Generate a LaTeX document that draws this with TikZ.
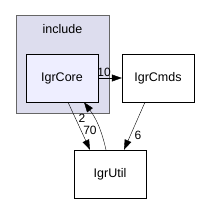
\documentclass[tikz,border=0pt]{standalone}
\usepackage{fontspec}
\setmainfont{Liberation Sans}
\usetikzlibrary{arrows.meta,positioning}
\definecolor{clusterfill}{HTML}{DDDDEE}
\definecolor{clusterline}{HTML}{666666}
\definecolor{corefill}{HTML}{EEEEFF}

\begin{document}
\begin{tikzpicture}[x=1pt, y=-1pt, font=\fontsize{12.5}{14}\selectfont,
    dirbox/.style={rectangle, draw=black, fill=white, minimum width=72pt, minimum height=48pt, inner sep=0pt},
    grp/.style={rectangle, draw=clusterline, fill=clusterfill, minimum width=93pt, minimum height=98pt, inner sep=0pt},
    dep/.style={-{Triangle[length=10pt,width=7pt]}, black},
    cnt/.style={font=\fontsize{12}{14}\selectfont, inner sep=0pt}]
\useasboundingbox (0,0) rectangle (200,204);
\node[grp] (inc) at (62.5,64) {};
\node (inclabel) at (62.5,29) {include};
\node[dirbox, fill=corefill] (core) at (62,78) {IgrCore};
\node[dirbox] (cmds) at (158,78) {IgrCmds};
\node[dirbox] (util) at (110,174) {IgrUtil};
\draw[dep] (core.east) -- (cmds.west) node[cnt, pos=0.25, above=1pt] {10};
\draw[dep] ([xshift=6pt]core.south) -- ([xshift=-20pt]util.north);
\node[cnt] (l2) at (82,118) {2};
\draw[dep] ([xshift=-4pt]util.north) to[bend right=12] ([xshift=22pt]core.south);
\node[cnt] (l70) at (90,130) {70};
\draw[dep] ([xshift=-13pt]cmds.south) -- ([xshift=14pt]util.north);
\node[cnt] (l6) at (138,135) {6};
\end{tikzpicture}
\end{document}
